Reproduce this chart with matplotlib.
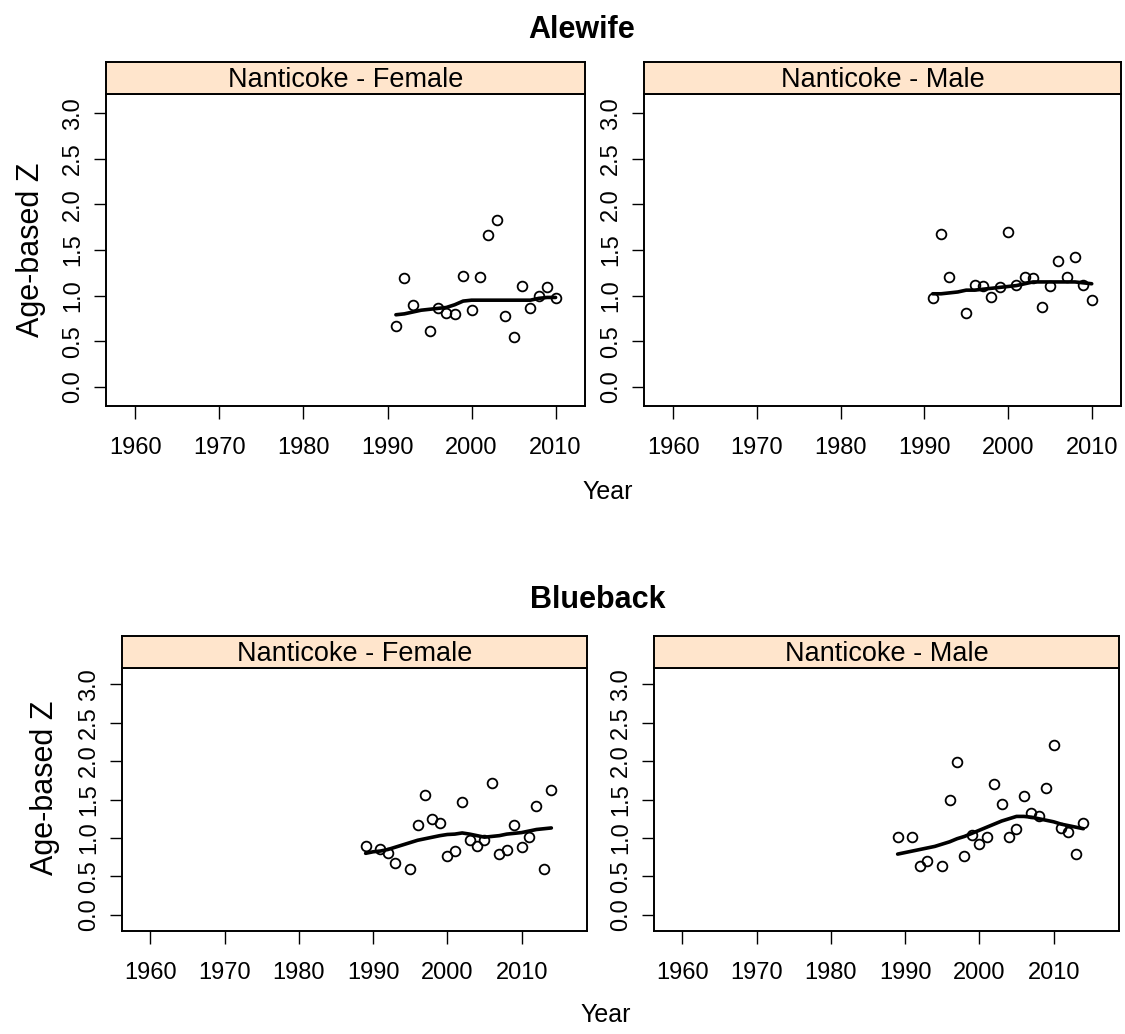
import matplotlib
matplotlib.use('Agg')
import matplotlib.pyplot as plt

plt.rcParams['font.family'] = ['Liberation Sans', 'DejaVu Sans']

# Alewife, Nanticoke
ale_years = list(range(1991, 2011))
ale_fem_years = [1991, 1992, 1993, 1995, 1996, 1997, 1998, 1999, 2000, 2001,
                 2002, 2003, 2004, 2005, 2006, 2007, 2008, 2009, 2010]
ale_fem_z = [0.67, 1.19, 0.90, 0.61, 0.86, 0.81, 0.80, 1.22, 0.84, 1.20,
             1.66, 1.83, 0.78, 0.55, 1.10, 0.86, 1.00, 1.09, 0.97]
ale_fem_fit = [0.79, 0.80, 0.82, 0.84, 0.85, 0.86, 0.87, 0.90, 0.94, 0.95,
               0.95, 0.95, 0.95, 0.95, 0.95, 0.95, 0.95, 0.97, 0.98, 0.98]
ale_male_years = [1991, 1992, 1993, 1995, 1996, 1997, 1998, 1999, 2000, 2001,
                  2002, 2003, 2004, 2005, 2006, 2007, 2008, 2009, 2010]
ale_male_z = [0.97, 1.68, 1.20, 0.81, 1.12, 1.11, 0.99, 1.09, 1.70, 1.12,
              1.20, 1.19, 0.88, 1.10, 1.38, 1.20, 1.42, 1.12, 0.95]
ale_male_fit = [1.02, 1.02, 1.03, 1.04, 1.06, 1.06, 1.07, 1.08, 1.09, 1.10,
                1.11, 1.13, 1.15, 1.15, 1.15, 1.15, 1.15, 1.15, 1.14, 1.13]

# Blueback, Nanticoke
blu_years = list(range(1989, 2015))
blu_fem_years = [1989, 1991, 1992, 1993, 1995, 1996, 1997, 1998, 1999, 2000,
                 2001, 2002, 2003, 2004, 2005, 2006, 2007, 2008, 2009, 2010,
                 2011, 2012, 2013, 2014]
blu_fem_z = [0.90, 0.86, 0.81, 0.68, 0.60, 1.17, 1.56, 1.24, 1.20, 0.76,
             0.83, 1.47, 0.97, 0.90, 0.97, 1.72, 0.79, 0.84, 1.17, 0.88,
             1.01, 1.42, 0.60, 1.63]
blu_fem_fit = [0.80, 0.82, 0.83, 0.85, 0.88, 0.91, 0.94, 0.97, 0.99, 1.01,
               1.03, 1.045, 1.05, 1.065, 1.05, 1.03, 1.01, 1.02, 1.03, 1.05,
               1.06, 1.07, 1.09, 1.11, 1.12, 1.13]
blu_male_years = [1989, 1991, 1992, 1993, 1995, 1996, 1997, 1998, 1999, 2000,
                  2001, 2002, 2003, 2004, 2005, 2006, 2007, 2008, 2009, 2010,
                  2011, 2012, 2013, 2014]
blu_male_z = [1.01, 1.01, 0.63, 0.70, 0.63, 1.49, 1.99, 0.76, 1.04, 0.92,
              1.01, 1.70, 1.44, 1.01, 1.11, 1.54, 1.32, 1.28, 1.65, 2.21,
              1.13, 1.08, 0.79, 1.19]
blu_male_fit = [0.79, 0.81, 0.83, 0.85, 0.87, 0.89, 0.92, 0.95, 0.99, 1.02,
                1.06, 1.10, 1.14, 1.18, 1.22, 1.25, 1.28, 1.28, 1.27, 1.25,
                1.23, 1.21, 1.18, 1.16, 1.14, 1.12]

x_ticks = [1960, 1970, 1980, 1990, 2000, 2010]
y_ticks = [0.0, 0.5, 1.0, 1.5, 2.0, 2.5, 3.0]

W, H = 1125, 1034
fig = plt.figure(figsize=(W / 100, H / 100), dpi=100)
strip_col = '#FFE5CC'
fs = 17


def px_axes(left, top, right, bottom):
    return fig.add_axes([left / W, 1 - bottom / H, (right - left) / W, (bottom - top) / H])


def panel(box, strip_h, xlim, yrs, z, fit_yrs, fit, title, ylab_pos=None):
    left, top, right, bottom = box
    ax = px_axes(left, top, right, bottom)
    ax.plot(fit_yrs, fit, color='black', lw=2.6, solid_capstyle='round', zorder=2)
    ax.plot(yrs, z, 'o', mfc='none', mec='black', ms=7, mew=1.3, zorder=3)
    ax.set_xlim(*xlim)
    ax.set_ylim(-0.21, 3.21)
    ax.set_xticks(x_ticks)
    ax.set_yticks(y_ticks)
    ax.set_yticklabels(['%.1f' % v for v in y_ticks], rotation=90, va='center')
    ax.tick_params(direction='out', length=9, width=1, labelsize=fs, color='black')
    ax.tick_params(axis='x', pad=13)
    ax.tick_params(axis='y', pad=7)
    for s in ax.spines.values():
        s.set_linewidth(1.4)
    if ylab_pos:
        fig.text(ylab_pos[0] / W, 1 - ylab_pos[1] / H, 'Age-based Z', rotation=90,
                 ha='center', va='center', fontsize=22)
    st = px_axes(left, top - strip_h, right, top)
    st.set_facecolor(strip_col)
    st.set_xticks([])
    st.set_yticks([])
    for s in st.spines.values():
        s.set_linewidth(1.4)
    st.text(0.5, 0.45, title, ha='center', va='center', fontsize=19.5, transform=st.transAxes)
    return ax


top_xlim = (1956.5, 2013.5)
bot_xlim = (1956.2, 2018.8)

panel((106, 94, 585, 406), 32, top_xlim, ale_fem_years, ale_fem_z, ale_years, ale_fem_fit,
      'Nanticoke - Female', (31, 250))
panel((644, 94, 1121, 406), 32, top_xlim, ale_male_years, ale_male_z, ale_years, ale_male_fit,
      'Nanticoke - Male')
panel((122, 668, 587, 931), 32, bot_xlim, blu_fem_years, blu_fem_z, blu_years, blu_fem_fit,
      'Nanticoke - Female', (45, 788))
panel((654, 668, 1119, 931), 32, bot_xlim, blu_male_years, blu_male_z, blu_years, blu_male_fit,
      'Nanticoke - Male')

fig.text(582 / W, 1 - 30 / H, 'Alewife', ha='center', va='center', fontsize=22, fontweight='bold')
fig.text(608 / W, 1 - 492 / H, 'Year', ha='center', va='center', fontsize=18)
fig.text(598 / W, 1 - 600 / H, 'Blueback', ha='center', va='center', fontsize=22, fontweight='bold')
fig.text(606 / W, 1 - 1015 / H, 'Year', ha='center', va='center', fontsize=18)

fig.savefig('out.png', dpi=100)
